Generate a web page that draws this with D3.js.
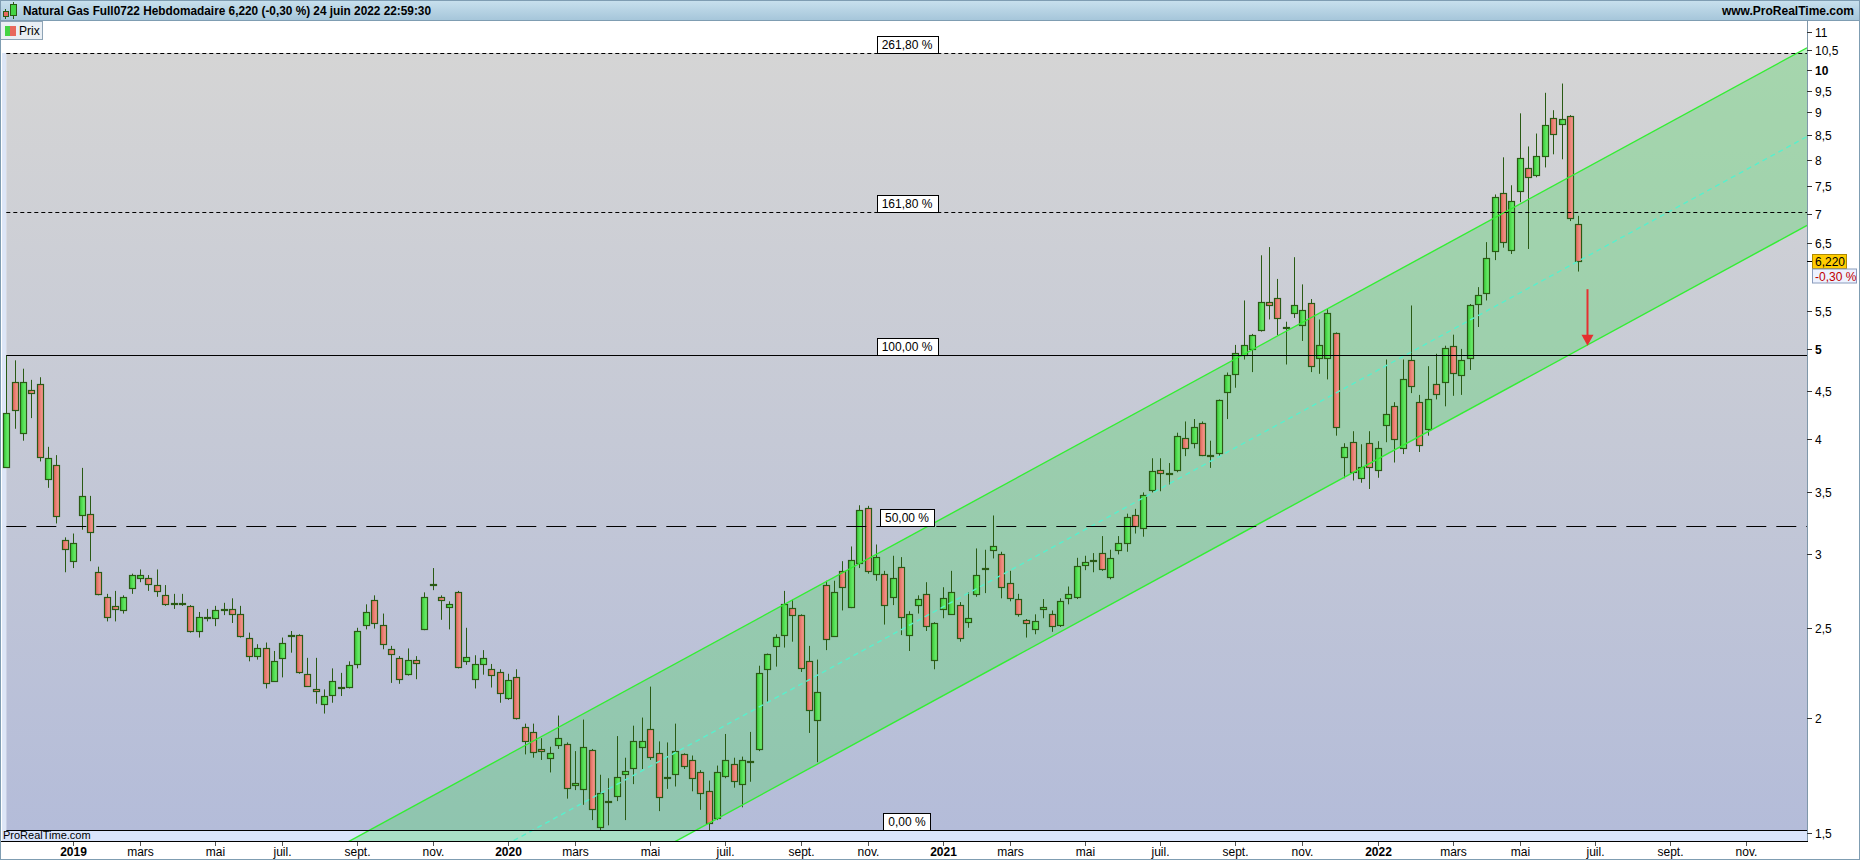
<!DOCTYPE html>
<html><head><meta charset="utf-8">
<script src="https://cdn.jsdelivr.net/npm/d3@7"></script>
<style>
body{margin:0;background:#fff;}
svg{display:block;font-family:"Liberation Sans",Arial,sans-serif;}
</style>
</head><body>
<svg id="c" width="1860" height="860"></svg>
<script>
// ---------------- DATA ----------------
const title = "Natural Gas Full0722 Hebdomadaire 6,220 (-0,30 %) 24 juin 2022 22:59:30";
const siteLabel = "www.ProRealTime.com";
const legendLabel = "Prix";
const firstWeek = [2018, 10, 12]; // Monday 12 Nov 2018 (weekly bars, Monday-dated)

const opens = [3.73,4.61,4.06,4.52,4.58,3.62,3.75,3.11,2.95,3.31,
3.32,2.87,2.70,2.64,2.61,2.76,2.83,2.83,2.78,2.71,
2.66,2.66,2.64,2.48,2.57,2.56,2.61,2.62,2.59,2.44,
2.33,2.38,2.19,2.32,2.45,2.455,2.23,2.145,2.07,2.115,
2.15,2.16,2.285,2.52,2.68,2.52,2.37,2.32,2.23,2.31,
2.49,2.78,2.70,2.63,2.73,2.30,2.20,2.285,2.255,2.24,
2.10,2.21,1.955,1.93,1.85,1.81,1.87,1.875,1.69,1.675,
1.845,1.525,1.625,1.645,1.74,1.765,1.86,1.945,1.83,1.72,
1.74,1.825,1.80,1.745,1.665,1.56,1.73,1.78,1.695,1.79,
1.85,2.255,2.39,2.455,2.625,2.58,2.30,1.99,2.78,2.45,
2.88,2.63,2.935,3.365,2.86,2.86,2.70,2.91,2.455,2.645,
2.72,2.31,2.62,2.59,2.645,2.535,2.72,2.89,3.035,3.00,
2.795,2.685,2.55,2.49,2.62,2.585,2.52,2.695,2.70,2.925,
2.95,3.01,2.835,3.03,3.09,3.305,3.20,3.52,3.70,3.665,
3.70,4.01,3.96,4.155,3.835,3.86,4.49,4.70,4.93,5.00,
5.24,5.62,5.68,5.27,5.47,5.30,5.60,4.89,4.89,5.20,
3.82,3.965,3.63,3.955,3.70,4.14,4.34,3.905,4.86,4.38,
4.095,4.585,4.61,5.04,4.69,4.89,5.59,5.74,6.385,7.36,
6.40,7.40,7.83,7.70,8.07,8.87,8.74,8.92,6.82];

const highs = [4.92,4.86,4.76,4.63,4.66,3.92,3.84,3.13,3.16,3.72,
3.47,2.91,2.72,2.74,2.71,2.86,2.89,2.85,2.89,2.78,
2.72,2.72,2.645,2.60,2.62,2.64,2.66,2.69,2.64,2.47,
2.40,2.41,2.36,2.44,2.48,2.46,2.32,2.32,2.145,2.26,
2.235,2.30,2.50,2.65,2.71,2.59,2.39,2.33,2.375,2.33,
2.73,2.90,2.71,2.67,2.74,2.50,2.335,2.365,2.285,2.255,
2.23,2.255,1.97,1.97,1.90,1.86,2.01,1.88,1.84,1.99,
1.85,1.735,1.72,1.91,1.81,1.96,2.00,2.16,1.885,1.88,
1.97,1.83,1.82,1.755,1.71,1.775,1.92,1.81,1.815,1.93,
2.275,2.345,2.46,2.74,2.68,2.585,2.39,2.31,2.81,2.81,
2.95,3.06,3.39,3.385,3.075,2.88,2.99,2.98,2.605,2.71,
2.80,2.535,2.765,2.88,2.665,2.73,3.045,3.035,3.305,3.02,
2.88,2.72,2.555,2.585,2.685,2.61,2.69,2.77,2.975,2.99,
3.01,3.14,3.035,3.14,3.32,3.36,3.50,3.81,3.81,3.765,
4.06,4.175,4.20,4.175,3.98,4.41,4.715,5.05,5.64,5.19,
6.31,6.44,5.95,5.35,6.28,5.87,5.66,5.38,5.52,5.21,
3.955,4.075,3.945,4.075,3.975,4.87,4.38,4.87,5.57,4.46,
4.79,4.94,5.04,5.18,5.00,5.59,5.83,6.52,7.34,8.05,
7.51,8.98,8.27,8.54,9.45,9.05,9.67,8.94,6.96];

const lows = [3.72,4.10,3.98,4.21,3.78,3.54,3.24,2.87,2.90,3.19,
2.95,2.71,2.54,2.54,2.59,2.72,2.80,2.74,2.70,2.64,
2.62,2.64,2.47,2.44,2.54,2.51,2.58,2.53,2.44,2.30,
2.31,2.15,2.185,2.21,2.35,2.23,2.16,2.07,2.02,2.075,
2.11,2.15,2.26,2.49,2.495,2.37,2.18,2.175,2.22,2.20,
2.485,2.745,2.55,2.49,2.26,2.28,2.15,2.225,2.155,2.075,
2.09,1.99,1.825,1.81,1.80,1.745,1.85,1.635,1.67,1.61,
1.55,1.512,1.53,1.625,1.55,1.695,1.76,1.80,1.585,1.675,
1.685,1.76,1.665,1.59,1.51,1.55,1.72,1.68,1.60,1.705,
1.84,2.08,2.27,2.38,2.415,2.24,1.925,1.79,2.365,2.445,
2.61,2.625,2.90,2.86,2.81,2.52,2.645,2.455,2.36,2.59,
2.48,2.255,2.56,2.585,2.415,2.50,2.70,2.725,2.97,2.69,
2.67,2.57,2.44,2.46,2.56,2.475,2.505,2.65,2.685,2.885,
2.87,2.88,2.82,3.00,3.02,3.16,3.135,3.50,3.51,3.57,
3.68,3.83,3.905,3.83,3.72,3.83,4.20,4.54,4.87,4.72,
5.22,5.38,5.17,4.81,5.40,5.10,4.72,4.70,4.635,4.03,
3.625,3.605,3.585,3.53,3.63,3.965,3.77,3.85,4.48,3.87,
4.03,4.41,4.335,4.45,4.46,4.745,5.28,5.64,6.235,6.43,
6.33,7.20,6.41,7.66,7.85,8.11,8.01,6.87,6.06];

const closes = [4.26,4.30,4.60,4.48,3.82,3.81,3.30,3.04,3.09,3.47,
3.17,2.72,2.57,2.62,2.70,2.85,2.85,2.79,2.74,2.65,
2.655,2.65,2.48,2.57,2.56,2.61,2.62,2.59,2.45,2.33,
2.38,2.18,2.30,2.41,2.455,2.24,2.165,2.135,2.11,2.19,
2.16,2.28,2.48,2.60,2.53,2.40,2.345,2.20,2.31,2.29,
2.70,2.79,2.68,2.655,2.27,2.325,2.285,2.32,2.225,2.125,
2.195,2.00,1.885,1.835,1.84,1.83,1.90,1.68,1.70,1.86,
1.595,1.66,1.62,1.725,1.75,1.885,1.885,1.815,1.64,1.725,
1.84,1.775,1.72,1.66,1.54,1.745,1.80,1.71,1.80,1.795,
2.235,2.34,2.445,2.655,2.58,2.26,2.04,2.13,2.43,2.73,
2.765,2.96,3.35,2.88,2.98,2.645,2.83,2.57,2.585,2.685,
2.51,2.53,2.69,2.73,2.44,2.56,2.85,2.90,3.06,2.765,
2.69,2.59,2.53,2.545,2.63,2.51,2.67,2.72,2.915,2.945,
2.96,2.89,2.975,3.09,3.29,3.22,3.48,3.69,3.67,3.67,
4.03,3.905,4.12,3.84,3.845,4.40,4.69,4.95,5.05,5.18,
5.62,5.57,5.395,5.28,5.57,5.51,4.79,5.05,5.47,4.12,
3.915,3.68,3.725,3.725,3.905,4.25,3.995,4.635,4.56,3.935,
4.42,4.465,5.01,4.715,4.86,5.58,5.71,6.26,7.29,6.53,
7.23,8.03,7.66,8.07,8.72,8.52,8.85,6.93,6.22];

// Fibonacci retracement (linear between low and high)
const fibLow = 1.512, fibHigh = 4.92;
const fibLevels = [0, 0.5, 1, 1.618, 2.618];
const fibLabels = ["0,00 %", "50,00 %", "100,00 %", "161,80 %", "261,80 %"];
const fibStyles = ["solid", "long", "solid", "short", "short"];

// price axis
const yTicks = [1.5, 2, 2.5, 3, 3.5, 4, 4.5, 5, 5.5, 6.5, 7, 7.5, 8, 8.5, 9, 9.5, 10, 10.5, 11];
const yBold = [5, 10];

// time axis
const tickYears = [2019, 2020, 2021, 2022];
const tickMonths = [0, 2, 4, 6, 8, 10];
const monthNames = ["", "mars", "mai", "juil.", "sept.", "nov."];

// regression channel anchors: [bar index, price]
const channelUpper = [[115.25, 3.406], [191.8, 8.097]];
const channelLower = [[115.25, 2.19], [191.8, 5.207]];
// red target arrow: [bar index, price]
const arrowPts = [[189, 5.80], [189, 5.04]];

const lastPrice = 6.22, lastPriceLabel = "6,220", lastChangeLabel = "-0,30 %";

// ---------------- LAYOUT ----------------
const W = 1860, H = 860;
const plot = {left: 2, top: 21, right: 1807, bottom: 841};
const svg = d3.select("#c");
const defs = svg.append("defs");

const x = d3.scaleLinear().domain([0, 188]).range([6.3, 1578.3]);
const y = d3.scaleLog().domain([1.5, 11]).range([833.3, 31.7]);
const fmt = v => String(v).replace(".", ",");

// gradients
function lg(id, stops, horiz) {
  const g = defs.append("linearGradient").attr("id", id)
    .attr("x1", 0).attr("y1", 0).attr("x2", horiz ? 1 : 0).attr("y2", horiz ? 0 : 1);
  stops.forEach(([o, c]) => g.append("stop").attr("offset", o).attr("stop-color", c));
}
lg("gTitle", [[0, "#c9e1ee"], [1, "#a6c6da"]]);
lg("gFib", [[0, "#d5d5d5"], [0.5, "#c5c9d6"], [1, "#b4bcd9"]]);
lg("gUp", [[0, "#36c436"], [0.6, "#5fe65f"], [1, "#72ee72"]], true);
lg("gDn", [[0, "#dc6055"], [0.6, "#ef8a7e"], [1, "#f49a8f"]], true);
defs.append("clipPath").attr("id", "clipPlot").append("rect")
  .attr("x", plot.left).attr("y", 40).attr("width", plot.right - plot.left).attr("height", plot.bottom - 40);

// background
svg.append("rect").attr("width", W).attr("height", H).attr("fill", "#ffffff");
// title bar
svg.append("rect").attr("x", 0).attr("y", 0).attr("width", W).attr("height", 20).attr("fill", "url(#gTitle)");
svg.append("line").attr("x1", 0).attr("x2", W).attr("y1", 20.5).attr("y2", 20.5).attr("stroke", "#7f9db2");

const fibPrice = l => fibLow + l * (fibHigh - fibLow);
const yTop = y(fibPrice(2.618)), yZero = y(fibPrice(0));
const xFib = x(0);

// plot zones
svg.append("rect").attr("x", plot.left).attr("y", 21).attr("width", plot.right - plot.left)
  .attr("height", plot.bottom - 21).attr("fill", "#ffffff");
svg.append("rect").attr("x", plot.left).attr("y", yTop).attr("width", xFib - plot.left)
  .attr("height", yZero - yTop).attr("fill", "#dde6f7");
svg.append("rect").attr("x", plot.left).attr("y", yZero).attr("width", plot.right - plot.left)
  .attr("height", plot.bottom - yZero).attr("fill", "#d9e4fb");
svg.append("rect").attr("x", xFib).attr("y", yTop).attr("width", plot.right - xFib)
  .attr("height", yZero - yTop).attr("fill", "url(#gFib)");

// channel
const gPlot = svg.append("g").attr("clip-path", "url(#clipPlot)");
function extLine(pts) {
  const [a, b] = pts.map(([i, p]) => [x(i), y(p)]);
  const s = (b[1] - a[1]) / (b[0] - a[0]);
  const x0 = 150, x1 = plot.right;
  return [[x0, a[1] + s * (x0 - a[0])], [x1, a[1] + s * (x1 - a[0])]];
}
const up = extLine(channelUpper), lo = extLine(channelLower);
const mid = up.map((p, k) => [p[0], (p[1] + lo[k][1]) / 2]);
gPlot.append("path").attr("d", d3.line()([up[0], up[1], lo[1], lo[0]]) + "Z")
  .attr("fill", "rgba(70,215,90,0.33)");

// candles
const idx = d3.range(opens.length);
const stroke = "#2a5a14";
const gC = gPlot.append("g");
const cg = gC.selectAll("g").data(idx).join("g");
cg.append("line")
  .attr("x1", i => Math.round(x(i)) + 0.5).attr("x2", i => Math.round(x(i)) + 0.5)
  .attr("y1", i => y(highs[i])).attr("y2", i => y(lows[i]))
  .attr("stroke", stroke).attr("stroke-width", 1);
cg.append("rect")
  .attr("x", i => Math.round(x(i)) - 2.5)
  .attr("y", i => Math.round(y(Math.max(opens[i], closes[i]))) + 0.5)
  .attr("width", 6)
  .attr("height", i => Math.max(1, Math.round(y(Math.min(opens[i], closes[i]))) - Math.round(y(Math.max(opens[i], closes[i])))))
  .attr("fill", i => closes[i] >= opens[i] ? "url(#gUp)" : "url(#gDn)")
  .attr("stroke", stroke).attr("stroke-width", 1.2);

// channel lines (on top)
gPlot.append("path").attr("d", d3.line()(up)).attr("stroke", "#33ee33").attr("stroke-width", 1.4).attr("fill", "none");
gPlot.append("path").attr("d", d3.line()(lo)).attr("stroke", "#33ee33").attr("stroke-width", 1.4).attr("fill", "none");
gPlot.append("path").attr("d", d3.line()(mid)).attr("stroke", "#58f0cc").attr("stroke-width", 1.4)
  .attr("stroke-dasharray", "5,4").attr("fill", "none");

// fibonacci lines + labels
const dashes = {solid: null, long: "20,10", short: "4,3"};
fibLevels.forEach((l, k) => {
  const yy = Math.round(y(fibPrice(l))) + 0.5;
  svg.append("line").attr("x1", xFib).attr("x2", plot.right).attr("y1", yy).attr("y2", yy)
    .attr("stroke", "#000").attr("stroke-width", 1).attr("stroke-dasharray", dashes[fibStyles[k]]);
  const t = svg.append("text").attr("x", 907).attr("y", yy - 4.5).attr("text-anchor", "middle")
    .attr("font-size", 12).attr("fill", "#000").text(fibLabels[k]);
  const w = t.node().getComputedTextLength() + 10;
  svg.insert("rect", () => t.node()).attr("x", Math.round(907 - w / 2) + 0.5).attr("y", yy - 17)
    .attr("width", Math.round(w)).attr("height", 17).attr("fill", "#fff").attr("stroke", "#000");
});

// arrow
const ax = Math.round(x(arrowPts[0][0])) + 0.5;
const ay0 = y(arrowPts[0][1]), ay1 = y(arrowPts[1][1]);
svg.append("line").attr("x1", ax).attr("x2", ax).attr("y1", ay0).attr("y2", ay1 - 9)
  .attr("stroke", "#e53030").attr("stroke-width", 2);
svg.append("path").attr("d", d3.line()([[ax - 6, ay1 - 11], [ax + 6, ay1 - 11], [ax, ay1]]) + "Z")
  .attr("fill", "#e53030");

// right price axis
svg.append("line").attr("x1", plot.right + 0.5).attr("x2", plot.right + 0.5).attr("y1", 20).attr("y2", plot.bottom + 1)
  .attr("stroke", "#7f97aa");
const gy = svg.append("g");
yTicks.forEach(v => {
  const yy = Math.round(y(v)) + 0.5;
  gy.append("line").attr("x1", plot.right).attr("x2", plot.right + 5).attr("y1", yy).attr("y2", yy).attr("stroke", "#333");
  gy.append("text").attr("x", plot.right + 8).attr("y", yy + 4.5).attr("font-size", 12)
    .attr("font-weight", yBold.includes(v) ? "bold" : "normal").attr("fill", "#000").text(fmt(v));
});
// last price labels
const yl = Math.round(y(lastPrice)) + 0.5;
gy.append("line").attr("x1", plot.right).attr("x2", plot.right + 5).attr("y1", yl).attr("y2", yl).attr("stroke", "#000");
gy.append("rect").attr("x", 1812.5).attr("y", yl - 7).attr("width", 34).attr("height", 14)
  .attr("fill", "#ffcc00").attr("stroke", "#b08a00");
gy.append("text").attr("x", 1815).attr("y", yl + 4.5).attr("font-size", 12).attr("fill", "#000").text(lastPriceLabel);
gy.append("rect").attr("x", 1812.5).attr("y", yl + 7.5).attr("width", 44).attr("height", 14)
  .attr("fill", "#edf2ff").attr("stroke", "#8a9cbc");
gy.append("text").attr("x", 1815).attr("y", yl + 19).attr("font-size", 12).attr("fill", "#c00000").text(lastChangeLabel);

// bottom time axis
svg.append("line").attr("x1", 0).attr("x2", plot.right + 1).attr("y1", plot.bottom + 0.5).attr("y2", plot.bottom + 0.5)
  .attr("stroke", "#000");
const start = new Date(firstWeek[0], firstWeek[1], firstWeek[2]);
const gx = svg.append("g");
tickYears.forEach(yr => tickMonths.forEach((m, k) => {
  const d = d3.timeMonday.ceil(new Date(yr, m, 1));
  const i = d3.timeMonday.count(start, d);
  const xx = Math.round(x(i)) + 0.5;
  if (xx > plot.right) return;
  gx.append("line").attr("x1", xx).attr("x2", xx).attr("y1", plot.bottom + 1).attr("y2", plot.bottom + 5).attr("stroke", "#555");
  gx.append("text").attr("x", xx).attr("y", 856).attr("text-anchor", "middle").attr("font-size", 12)
    .attr("font-weight", m === 0 ? "bold" : "normal").attr("fill", "#000")
    .text(m === 0 ? String(yr) : monthNames[k]);
}));

// watermark
svg.append("text").attr("x", 3).attr("y", 838.5).attr("font-size", 11).attr("fill", "#000").text("ProRealTime.com");

// legend
svg.append("rect").attr("x", 0.5).attr("y", 21.5).attr("width", 42).attr("height", 18)
  .attr("fill", "#eaeff4").attr("stroke", "#8ea4b6");
svg.append("rect").attr("x", 5).attr("y", 26).attr("width", 5).attr("height", 10).attr("fill", "#44d444");
svg.append("rect").attr("x", 10).attr("y", 26).attr("width", 6).attr("height", 10).attr("fill", "#e8685c");
svg.append("text").attr("x", 19).attr("y", 35).attr("font-size", 12).attr("fill", "#000").text(legendLabel);

// title
const ic = svg.append("g");
ic.append("line").attr("x1", 5.5).attr("x2", 5.5).attr("y1", 9).attr("y2", 19).attr("stroke", stroke);
ic.append("rect").attr("x", 3.5).attr("y", 11.5).attr("width", 5).attr("height", 5).attr("fill", "#e8685c").attr("stroke", stroke);
ic.append("line").attr("x1", 13.5).attr("x2", 13.5).attr("y1", 2).attr("y2", 19).attr("stroke", stroke);
ic.append("rect").attr("x", 10.5).attr("y", 4.5).attr("width", 6).attr("height", 11).attr("fill", "#44d444").attr("stroke", stroke);
svg.append("text").attr("x", 23).attr("y", 15).attr("font-size", 12).attr("font-weight", "bold")
  .attr("textLength", 408).attr("lengthAdjust", "spacingAndGlyphs").attr("fill", "#000").text(title);
svg.append("text").attr("x", 1854).attr("y", 15).attr("text-anchor", "end").attr("font-size", 12).attr("font-weight", "bold")
  .attr("fill", "#000").text(siteLabel);

// outer frame
svg.append("rect").attr("x", 0.5).attr("y", 0.5).attr("width", W - 1).attr("height", H - 1)
  .attr("fill", "none").attr("stroke", "#7f9db2");
</script>
</body></html>
